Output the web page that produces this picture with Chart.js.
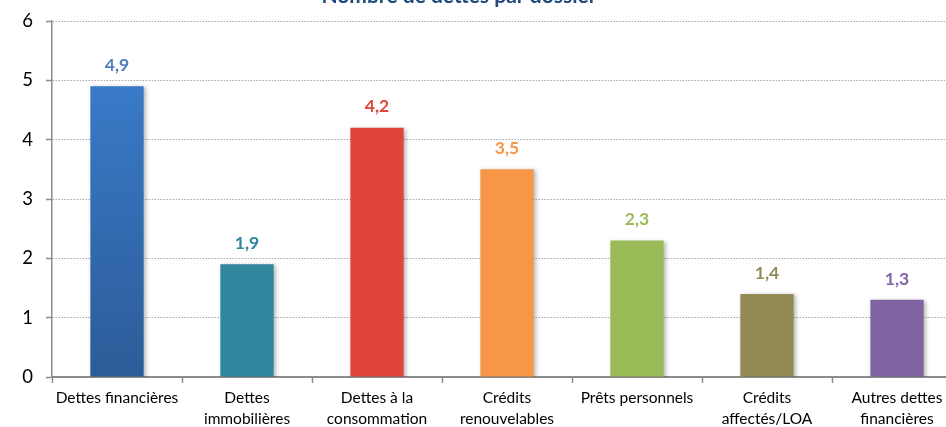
<!DOCTYPE html>
<html>
<head>
<meta charset="utf-8">
<script src="https://cdn.jsdelivr.net/npm/chart.js@4/dist/chart.umd.min.js"></script>
<style>
  html, body { margin: 0; padding: 0; background: #fff; width: 946px; height: 427px; overflow: hidden; }
  #wrap { position: absolute; left: 0; top: -24px; width: 1000px; height: 451px; }
</style>
</head>
<body>
<div id="wrap"><canvas id="chart" width="1000" height="451"></canvas></div>
<script>
// DONNEES
const chartTitle = 'Nombre de dettes par dossier';
const categories = [
  'Dettes financières',
  ['Dettes', 'immobilières'],
  ['Dettes à la', 'consommation'],
  ['Crédits', 'renouvelables'],
  'Prêts personnels',
  ['Crédits', 'affectés/LOA'],
  ['Autres dettes', 'financières']
];
const values = [4.9, 1.9, 4.2, 3.5, 2.3, 1.4, 1.3];
const barColors = ['#3A7BCB', '#31859C', '#DF4538', '#F79646', '#9BBB59', '#948A54', '#8064A2'];
const labelColors = ['#4F81BD', '#31859C', '#DF4538', '#F79646', '#9BBB59', '#948A54', '#8064A2'];
const yTicks = [0, 1, 2, 3, 4, 5, 6];

const FONT = "'Lato', 'Noto Sans', sans-serif";

// barre 1 en dégradé
function barFill(ctx) {
  const i = ctx.dataIndex;
  if (i !== 0) return barColors[i];
  const area = ctx.chart.chartArea;
  if (!area) return barColors[i];
  const g = ctx.chart.ctx.createLinearGradient(0, area.top, 0, area.bottom);
  g.addColorStop(0, '#3C80D2');
  g.addColorStop(1, '#2C5C98');
  return g;
}

// ombre + étiquettes + titre
const extras = {
  id: 'extras',
  beforeDatasetsDraw(chart) {
    const c = chart.ctx;
    c.save();
    c.shadowColor = 'rgba(0,0,0,0.28)';
    c.shadowBlur = 4;
    c.shadowOffsetX = 2;
    c.shadowOffsetY = 1;
  },
  afterDatasetsDraw(chart) {
    const c = chart.ctx;
    c.restore();
    const meta = chart.getDatasetMeta(0);
    c.save();
    c.font = 'bold 17.5px ' + FONT;
    c.textAlign = 'center';
    c.textBaseline = 'middle';
    meta.data.forEach((bar, i) => {
      c.fillStyle = labelColors[i];
      c.fillText(String(values[i]).replace('.', ','), bar.x, bar.y - 21);
    });
    c.restore();
  },
  afterDraw(chart) {
    const c = chart.ctx;
    c.save();
    c.font = 'bold 21px ' + FONT;
    c.fillStyle = '#1F497D';
    c.textAlign = 'center';
    c.textBaseline = 'alphabetic';
    c.fillText(chartTitle, 459, 27);
    c.restore();
  }
};

new Chart(document.getElementById('chart'), {
  type: 'bar',
  data: {
    labels: categories,
    datasets: [{
      data: values,
      backgroundColor: barFill,
      borderWidth: 0,
      barPercentage: 1,
      categoryPercentage: 0.41
    }]
  },
  options: {
    responsive: false,
    animation: false,
    layout: { padding: { top: 45, right: 38, left: 0, bottom: 0 } },
    plugins: { legend: { display: false }, tooltip: { enabled: false }, title: { display: false } },
    scales: {
      x: {
        offset: true,
        grid: { display: true, drawOnChartArea: false, drawTicks: true, tickLength: 6, offset: true, tickColor: '#8C8C8C', tickWidth: 1.5 },
        border: { display: true, color: '#8C8C8C', width: 2 },
        ticks: { color: '#000', font: { family: FONT, size: 15.5, lineHeight: 1.36 }, padding: 4, maxRotation: 0, autoSkip: false },
        afterFit(scale) { scale.height = 50; }
      },
      y: {
        min: 0,
        max: 6,
        afterBuildTicks(scale) { scale.ticks = yTicks.map(v => ({ value: v })); },
        grid: { color: '#A6A6A6', lineWidth: 1, tickLength: 6, tickColor: '#8C8C8C', tickWidth: 1.5 },
        border: { display: true, color: '#8C8C8C', width: 1.5, dash: [1.5, 1.5] },
        ticks: { color: '#000', font: { family: FONT, size: 18.5 }, padding: 13 },
        afterFit(scale) { scale.width = 52; }
      }
    }
  },
  plugins: [extras]
});
</script>
</body>
</html>
